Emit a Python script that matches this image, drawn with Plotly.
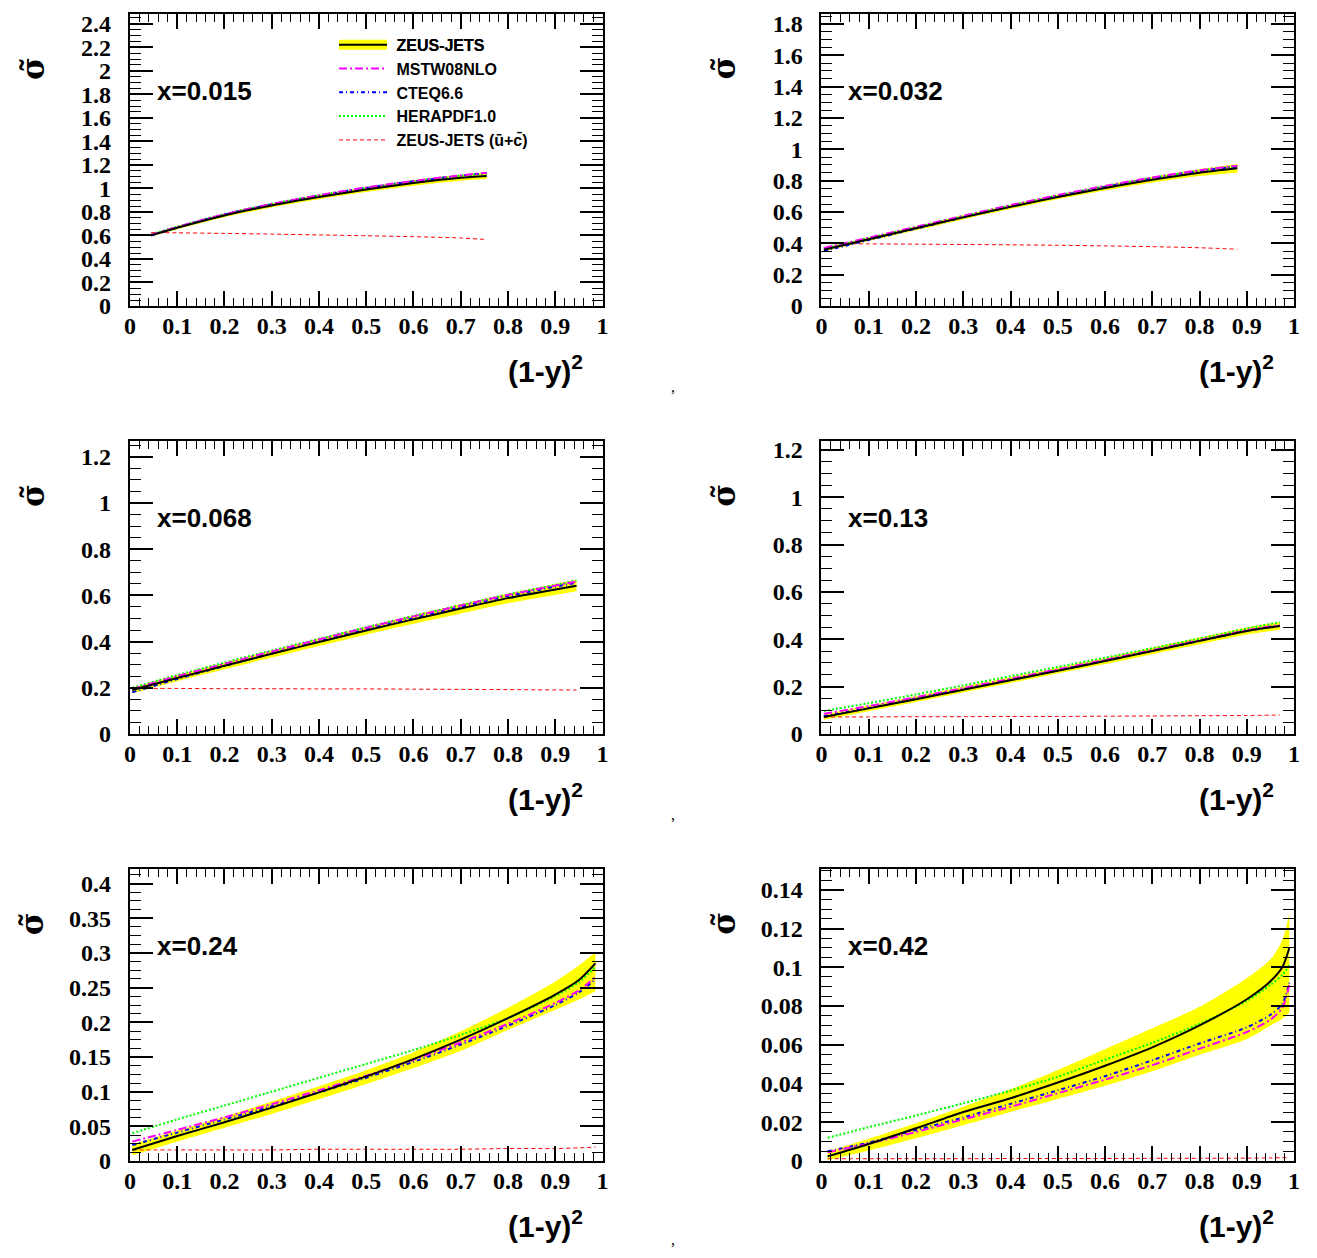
import plotly.graph_objects as go

# ---------------- data ----------------
PANEL_LABELS = ["x=0.015", "x=0.032", "x=0.068", "x=0.13", "x=0.24", "x=0.42"]

X1 = [0.045, 0.1, 0.2, 0.3, 0.4, 0.5, 0.6, 0.7, 0.755]
ZJ1 = [0.600, 0.665, 0.770, 0.855, 0.926, 0.990, 1.045, 1.090, 1.105]
LO1 = [0.590, 0.652, 0.755, 0.838, 0.908, 0.970, 1.023, 1.066, 1.080]
HI1 = [0.612, 0.678, 0.785, 0.872, 0.945, 1.010, 1.068, 1.115, 1.130]
MSTW1 = [0.605, 0.672, 0.780, 0.868, 0.942, 1.008, 1.064, 1.111, 1.133]
CTEQ1 = [0.598, 0.668, 0.776, 0.864, 0.938, 1.004, 1.060, 1.108, 1.130]
HERA1 = [0.610, 0.675, 0.782, 0.869, 0.942, 1.006, 1.062, 1.108, 1.128]
UC1 = [0.625, 0.622, 0.617, 0.611, 0.604, 0.597, 0.589, 0.578, 0.565]

X2 = [0.005, 0.1, 0.2, 0.3, 0.4, 0.5, 0.6, 0.7, 0.8, 0.88]
ZJ2 = [0.358, 0.425, 0.495, 0.565, 0.632, 0.695, 0.752, 0.805, 0.850, 0.878]
LO2 = [0.348, 0.414, 0.483, 0.552, 0.618, 0.680, 0.736, 0.787, 0.829, 0.850]
HI2 = [0.370, 0.437, 0.507, 0.578, 0.646, 0.710, 0.769, 0.824, 0.872, 0.905]
MSTW2 = [0.370, 0.435, 0.505, 0.575, 0.643, 0.707, 0.766, 0.820, 0.866, 0.895]
CTEQ2 = [0.350, 0.420, 0.493, 0.565, 0.634, 0.699, 0.759, 0.814, 0.861, 0.890]
HERA2 = [0.365, 0.433, 0.503, 0.573, 0.641, 0.705, 0.764, 0.818, 0.864, 0.892]
UC2 = [0.398, 0.396, 0.394, 0.392, 0.390, 0.387, 0.383, 0.378, 0.371, 0.362]

X3 = [0.005, 0.1, 0.2, 0.3, 0.4, 0.5, 0.6, 0.7, 0.8, 0.945]
ZJ3 = [0.190, 0.242, 0.295, 0.347, 0.398, 0.448, 0.496, 0.543, 0.588, 0.642]
LO3 = [0.175, 0.228, 0.280, 0.331, 0.381, 0.430, 0.477, 0.522, 0.566, 0.618]
HI3 = [0.200, 0.254, 0.308, 0.361, 0.413, 0.464, 0.513, 0.561, 0.607, 0.668]
MSTW3 = [0.195, 0.250, 0.304, 0.357, 0.409, 0.460, 0.509, 0.556, 0.602, 0.660]
CTEQ3 = [0.180, 0.238, 0.294, 0.348, 0.401, 0.452, 0.502, 0.550, 0.597, 0.655]
HERA3 = [0.200, 0.255, 0.309, 0.361, 0.412, 0.462, 0.511, 0.558, 0.604, 0.664]
UC3 = [0.197, 0.197, 0.196, 0.196, 0.195, 0.195, 0.194, 0.193, 0.192, 0.190]

X4 = [0.005, 0.1, 0.2, 0.3, 0.4, 0.5, 0.6, 0.7, 0.8, 0.9, 0.97]
ZJ4 = [0.072, 0.108, 0.147, 0.187, 0.227, 0.267, 0.308, 0.350, 0.393, 0.435, 0.456]
LO4 = [0.060, 0.096, 0.135, 0.175, 0.215, 0.255, 0.295, 0.337, 0.379, 0.420, 0.440]
HI4 = [0.083, 0.120, 0.159, 0.199, 0.239, 0.280, 0.321, 0.364, 0.407, 0.450, 0.472]
MSTW4 = [0.085, 0.118, 0.155, 0.194, 0.233, 0.273, 0.313, 0.354, 0.396, 0.438, 0.460]
CTEQ4 = [0.075, 0.110, 0.149, 0.189, 0.229, 0.269, 0.310, 0.351, 0.393, 0.435, 0.457]
HERA4 = [0.097, 0.130, 0.167, 0.205, 0.244, 0.283, 0.322, 0.362, 0.403, 0.445, 0.472]
UC4 = [0.072, 0.072, 0.073, 0.073, 0.074, 0.074, 0.075, 0.076, 0.077, 0.078, 0.080]

X5 = [0.005, 0.1, 0.2, 0.3, 0.4, 0.5, 0.6, 0.7, 0.8, 0.9, 0.95, 0.985]
ZJ5 = [0.016, 0.036, 0.056, 0.077, 0.099, 0.122, 0.147, 0.175, 0.206, 0.240, 0.261, 0.285]
LO5 = [0.008, 0.028, 0.048, 0.068, 0.089, 0.111, 0.134, 0.159, 0.189, 0.218, 0.233, 0.245]
HI5 = [0.024, 0.044, 0.064, 0.086, 0.108, 0.131, 0.157, 0.187, 0.221, 0.259, 0.282, 0.301]
MSTW5 = [0.028, 0.045, 0.063, 0.082, 0.102, 0.123, 0.146, 0.171, 0.198, 0.228, 0.246, 0.265]
CTEQ5 = [0.023, 0.041, 0.060, 0.079, 0.099, 0.120, 0.143, 0.168, 0.195, 0.225, 0.243, 0.262]
HERA5 = [0.040, 0.060, 0.080, 0.100, 0.120, 0.140, 0.160, 0.182, 0.206, 0.238, 0.258, 0.280]
UC5 = [0.016, 0.016, 0.016, 0.016, 0.017, 0.017, 0.017, 0.017, 0.018, 0.018, 0.019, 0.020]

X6 = [0.013, 0.1, 0.2, 0.3, 0.4, 0.5, 0.6, 0.7, 0.8, 0.9, 0.95, 0.975, 0.99]
ZJ6 = [0.0024, 0.0088, 0.0169, 0.0253, 0.0324, 0.0405, 0.0492, 0.0587, 0.0700, 0.0835, 0.0928, 0.1000, 0.1100]
LO6 = [0.0005, 0.0055, 0.0118, 0.0185, 0.0253, 0.0320, 0.0388, 0.0463, 0.0548, 0.0630, 0.0700, 0.0735, 0.0767]
HI6 = [0.0050, 0.0115, 0.0195, 0.0280, 0.0370, 0.0470, 0.0577, 0.0685, 0.0796, 0.0944, 0.1040, 0.1140, 0.1280]
MSTW6 = [0.0045, 0.0090, 0.0150, 0.0215, 0.0280, 0.0350, 0.0420, 0.0495, 0.0580, 0.0666, 0.0730, 0.0790, 0.0910]
CTEQ6 = [0.0050, 0.0095, 0.0160, 0.0225, 0.0295, 0.0365, 0.0438, 0.0520, 0.0607, 0.0690, 0.0755, 0.0810, 0.0920]
HERA6 = [0.0120, 0.0175, 0.0235, 0.0298, 0.0363, 0.0435, 0.0523, 0.0610, 0.0708, 0.0826, 0.0910, 0.0960, 0.1010]
UC6 = [0.0012, 0.0012, 0.0012, 0.0012, 0.0013, 0.0013, 0.0013, 0.0014, 0.0014, 0.0015, 0.0016, 0.0017, 0.0018]

Y_RANGES = [[0, 2.484], [0, 1.863], [0, 1.268], [0, 1.237], [0, 0.421], [0, 0.1507]]
Y_DTICK = [0.2, 0.2, 0.2, 0.2, 0.05, 0.02]
X_TICKS = [0, 0.1, 0.2, 0.3, 0.4, 0.5, 0.6, 0.7, 0.8, 0.9, 1]

SERIES_NAMES = ["ZEUS-JETS", "MSTW08NLO", "CTEQ6.6", "HERAPDF1.0", "ZEUS-JETS (ū+c̄)"]

panels = [
    (X1, ZJ1, LO1, HI1, MSTW1, CTEQ1, HERA1, UC1),
    (X2, ZJ2, LO2, HI2, MSTW2, CTEQ2, HERA2, UC2),
    (X3, ZJ3, LO3, HI3, MSTW3, CTEQ3, HERA3, UC3),
    (X4, ZJ4, LO4, HI4, MSTW4, CTEQ4, HERA4, UC4),
    (X5, ZJ5, LO5, HI5, MSTW5, CTEQ5, HERA5, UC5),
    (X6, ZJ6, LO6, HI6, MSTW6, CTEQ6, HERA6, UC6),
]

# ---------------- layout geometry (page pixels) ----------------
OFF = 8                     # default page body margin
W, H = 1301, 1240           # figure size so the page fits the window


def px(x):
    return (x - OFF) / W


def py(y):
    return 1 - (y - OFF) / H


BOXES = [  # (left, right, top, bottom) in page pixels
    (125, 602, 10, 306), (823, 1300, 10, 306),
    (125, 602, 443, 740), (823, 1300, 443, 740),
    (125, 602, 877, 1173), (823, 1300, 877, 1173),
]

fig = go.Figure()
SPL = dict(shape="spline", smoothing=0.7)


def nm(s):
    return "<b>\u00a0" + s + "</b>"


for i, (X, ZJ, LO, HI, MS, CT, HE, UC) in enumerate(panels):
    xa = "x" if i == 0 else f"x{i+1}"
    ya = "y" if i == 0 else f"y{i+1}"
    first = i == 0
    fig.add_trace(go.Scatter(x=X, y=LO, mode="lines", line=dict(width=0, color="#ffff00", **SPL),
                             showlegend=False, hoverinfo="skip", xaxis=xa, yaxis=ya))
    fig.add_trace(go.Scatter(x=X, y=HI, mode="lines", line=dict(width=0, color="#ffff00", **SPL),
                             fill="tonexty", fillcolor="#ffff00",
                             showlegend=False, hoverinfo="skip", xaxis=xa, yaxis=ya))
    fig.add_trace(go.Scatter(x=X, y=UC, mode="lines", name=nm(SERIES_NAMES[4]),
                             line=dict(color="#ff0000", width=1, dash="4px,3px", **SPL),
                             legend="legend2", legendrank=5, showlegend=first, xaxis=xa, yaxis=ya))
    fig.add_trace(go.Scatter(x=X, y=HE, mode="lines", name=nm(SERIES_NAMES[3]),
                             line=dict(color="#00ff00", width=2, dash="2px,2px", **SPL),
                             legend="legend2", legendrank=4, showlegend=first, xaxis=xa, yaxis=ya))
    fig.add_trace(go.Scatter(x=X, y=CT, mode="lines", name=nm(SERIES_NAMES[2]),
                             line=dict(color="#0000ff", width=2, dash="4px,3px,1px,3px", **SPL),
                             legend="legend2", legendrank=3, showlegend=first, xaxis=xa, yaxis=ya))
    fig.add_trace(go.Scatter(x=X, y=MS, mode="lines", name=nm(SERIES_NAMES[1]),
                             line=dict(color="#ff00ff", width=2, dash="8px,3px,2px,3px", **SPL),
                             legend="legend2", legendrank=2, showlegend=first, xaxis=xa, yaxis=ya))
    fig.add_trace(go.Scatter(x=X, y=ZJ, mode="lines", name=nm(SERIES_NAMES[0]),
                             line=dict(color="black", width=2, **SPL),
                             legend="legend2", legendrank=1, showlegend=first, xaxis=xa, yaxis=ya))

# legend key for the yellow band (drawn under the main legend entry)
fig.add_trace(go.Scatter(x=[None], y=[None], mode="lines", name=nm(SERIES_NAMES[0]),
                         line=dict(color="#ffff00", width=20), legend="legend", showlegend=True,
                         xaxis="x", yaxis="y"))

TICKFONT = dict(family="Liberation Serif", size=24, color="black", weight="bold")
layout = {}
annotations = []
for i, (l, r, t, b) in enumerate(BOXES):
    xk = "xaxis" if i == 0 else f"xaxis{i+1}"
    yk = "yaxis" if i == 0 else f"yaxis{i+1}"
    xa = "x" if i == 0 else f"x{i+1}"
    ya = "y" if i == 0 else f"y{i+1}"
    layout[xk] = dict(domain=[px(l), px(r)], anchor=ya, range=[0, 1],
                      tickmode="array", tickvals=X_TICKS,
                      ticks="inside", ticklen=15, tickwidth=1.5, tickcolor="black",
                      mirror="allticks", showline=True, linewidth=2, linecolor="black",
                      showgrid=False, zeroline=False, tickfont=TICKFONT, ticklabelstandoff=-3,
                      minor=dict(dtick=0.02, tick0=0, ticks="inside", ticklen=8, tickwidth=1,
                                 tickcolor="black", showgrid=False))
    d = Y_DTICK[i]
    layout[yk] = dict(domain=[py(b), py(t)], anchor=xa, range=Y_RANGES[i],
                      tick0=0, dtick=d,
                      ticks="inside", ticklen=23, tickwidth=1.5, tickcolor="black",
                      mirror="allticks", showline=True, linewidth=2, linecolor="black",
                      showgrid=False, zeroline=False, tickfont=TICKFONT, ticklabelstandoff=12,
                      minor=dict(dtick=d / 4, tick0=0, ticks="inside", ticklen=11, tickwidth=1,
                                 tickcolor="black", showgrid=False))
    annotations.append(dict(text="<b>" + PANEL_LABELS[i] + "</b>", xref="paper", yref="paper",
                            x=px(l + 25), y=py(t + 78), xanchor="left", yanchor="middle",
                            showarrow=False,
                            font=dict(family="Liberation Sans", size=26, color="black")))
    annotations.append(dict(text="<b>σ̃</b>", xref="paper", yref="paper",
                            x=px(l - 98), y=py(t + 55), xanchor="center", yanchor="middle",
                            textangle=-90, showarrow=False,
                            font=dict(family="DejaVu Serif", size=31, color="black")))
    annotations.append(dict(text="<b>(1-y)<sup>2</sup></b>", xref="paper", yref="paper",
                            x=px(r - 18), y=py(b + 64), xanchor="right", yanchor="middle",
                            showarrow=False,
                            font=dict(family="Liberation Sans", size=30, color="black")))

for cy in [388, 822, 1253]:
    annotations.append(dict(text=",", xref="paper", yref="paper", x=px(673), y=py(cy),
                            xanchor="center", yanchor="middle", showarrow=False,
                            font=dict(family="Liberation Serif", size=16, color="black")))

LEG = dict(x=px(331), y=py(24), xanchor="left", yanchor="top",
           bgcolor="rgba(0,0,0,0)", borderwidth=0, itemwidth=48,
           font=dict(family="Liberation Sans", size=16, color="black"),
           itemclick=False, itemdoubleclick=False)

fig.update_layout(
    width=W, height=H, margin=dict(l=0, r=0, t=0, b=0),
    paper_bgcolor="white", plot_bgcolor="white",
    legend=LEG, legend2=LEG,
    annotations=annotations,
    **layout,
)

fig.write_html("out.html")
